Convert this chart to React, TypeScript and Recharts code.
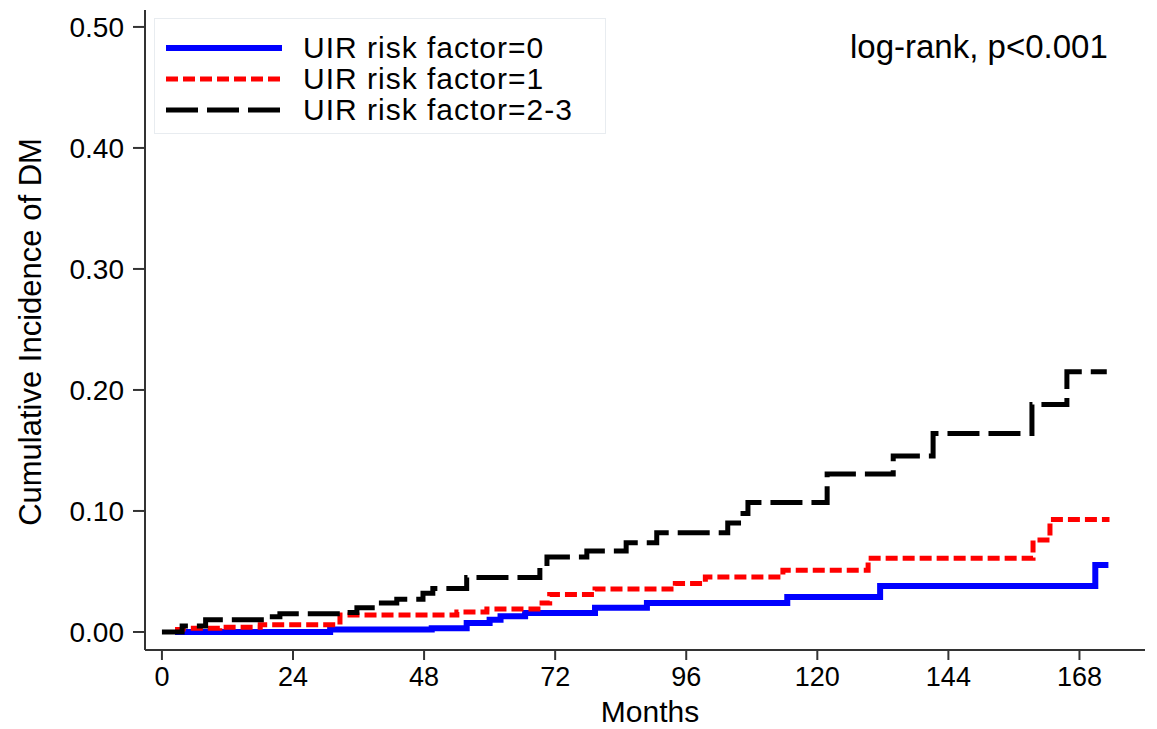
import React from 'react';
import { LineChart, Line, XAxis, YAxis, Legend } from 'recharts';

// month / cumulative incidence pairs
const riskMonths0 = [2.4, 30.8, 49.4, 55.8, 60, 62, 66.5, 79.3, 88.8, 114.5, 131.5, 170.9, 173.3];
const riskValues0 = [0, 0.002, 0.003, 0.0075, 0.01, 0.013, 0.0157, 0.02, 0.024, 0.029, 0.038, 0.0554, 0.0554];

const riskMonths1 = [2.4, 3.8, 10.6, 18, 32.6, 54, 59.5, 69.6, 71, 79.3, 94, 99.5, 113.7, 129.3, 159.5, 162.6, 173.5];
const riskValues1 = [0.002, 0.003, 0.004, 0.006, 0.014, 0.0165, 0.019, 0.024, 0.031, 0.0355, 0.04, 0.0455, 0.051, 0.061, 0.076, 0.093, 0.093];

const riskMonths23 = [0, 3.7, 8, 19.4, 21.6, 33.9, 35.7, 39.4, 43, 47.8, 49.6, 55.8, 69.2, 70.5, 77.8, 85, 90.6, 103.6, 106.4, 107.3, 121.8, 133.9, 141.2, 159.3, 165.7, 173];
const riskValues23 = [0, 0.005, 0.01, 0.0125, 0.015, 0.016, 0.02, 0.024, 0.027, 0.032, 0.036, 0.045, 0.054, 0.062, 0.067, 0.0737, 0.082, 0.09, 0.098, 0.107, 0.1306, 0.1455, 0.164, 0.188, 0.215, 0.215];

const xTicks = [0, 24, 48, 72, 96, 120, 144, 168];
const yTicks = [0, 0.1, 0.2, 0.3, 0.4, 0.5];

const toPoints = (months: number[], values: number[]) =>
    months.map((m, i) => ({ m, v: values[i] }));

const SERIES = [
    { name: 'UIR risk factor=0', data: toPoints(riskMonths0, riskValues0), color: '#0000ff', dash: undefined, width: 6 },
    { name: 'UIR risk factor=1', data: toPoints(riskMonths1, riskValues1), color: '#ff0000', dash: '12 5', width: 5 },
    { name: 'UIR risk factor=2-3', data: toPoints(riskMonths23, riskValues23), color: '#000000', dash: '32 9', width: 5 },
];

const FONT = '"Liberation Sans", Arial, sans-serif';
const AXIS_COLOR = '#333';

function LegendBox() {
    return (
        <div
            style={{
                border: '1px solid #e8ecf0',
                background: '#fff',
                width: 452,
                height: 116,
                boxSizing: 'border-box',
                paddingTop: 13,
                fontFamily: FONT,
            }}
        >
            {SERIES.map((s) => (
                <div key={s.name} style={{ display: 'flex', alignItems: 'center', height: 31 }}>
                    <svg width={134} height={20} style={{ marginLeft: 11 }}>
                        <line
                            x1={0}
                            y1={10}
                            x2={116}
                            y2={10}
                            stroke={s.color}
                            strokeWidth={s.width}
                            strokeDasharray={s.dash}
                        />
                    </svg>
                    <span style={{ fontSize: 30, lineHeight: 1, letterSpacing: 1, color: '#000', marginLeft: 3 }}>
                        {s.name}
                    </span>
                </div>
            ))}
        </div>
    );
}

function YTitle({ viewBox }: any) {
    const cy = viewBox.y + viewBox.height / 2 + 2;
    return (
        <text
            x={30}
            y={cy}
            transform={`rotate(-90, 30, ${cy})`}
            textAnchor="middle"
            dominantBaseline="central"
            fontSize={31}
            fontFamily={FONT}
            fill="#000"
        >
            Cumulative Incidence of DM
        </text>
    );
}

function XTitle({ viewBox }: any) {
    return (
        <text
            x={viewBox.x + viewBox.width / 2 + 5}
            y={722}
            textAnchor="middle"
            fontSize={30}
            fontFamily={FONT}
            fill="#000"
        >
            Months
        </text>
    );
}

export default function App() {
    return (
        <div style={{ position: 'absolute', left: 0, top: 0, width: 1157, height: 729, background: '#fff' }}>
            <LineChart width={1157} height={729} margin={{ top: 10, right: 12, bottom: 0, left: 0 }}>
                <XAxis
                    type="number"
                    dataKey="m"
                    domain={[-3.1, 180]}
                    ticks={xTicks}
                    allowDataOverflow
                    height={79}
                    tickSize={10}
                    tickMargin={7}
                    stroke={AXIS_COLOR}
                    strokeWidth={2}
                    tick={{ fill: '#000', fontSize: 27, fontFamily: FONT }}
                    label={<XTitle />}
                />
                <YAxis
                    type="number"
                    dataKey="v"
                    domain={[-0.0149, 0.514]}
                    ticks={yTicks}
                    allowDataOverflow
                    width={145}
                    tickSize={12}
                    tickMargin={9}
                    stroke={AXIS_COLOR}
                    strokeWidth={2}
                    tickFormatter={(v: number) => v.toFixed(2)}
                    tick={{ fill: '#000', fontSize: 28, fontFamily: FONT }}
                    label={<YTitle />}
                />
                <Legend
                    layout="vertical"
                    align="center"
                    verticalAlign="middle"
                    wrapperStyle={{ left: 154, top: 18, width: 452, height: 116 }}
                    content={() => <LegendBox />}
                />
                {SERIES.map((s) => (
                    <Line
                        key={s.name}
                        data={s.data}
                        dataKey="v"
                        name={s.name}
                        type="stepAfter"
                        stroke={s.color}
                        strokeWidth={s.width}
                        strokeDasharray={s.dash}
                        dot={false}
                        activeDot={false}
                        isAnimationActive={false}
                    />
                ))}
            </LineChart>
            <div
                style={{
                    position: 'absolute',
                    left: 850,
                    top: 30,
                    fontSize: 33,
                    lineHeight: 1,
                    fontFamily: FONT,
                    color: '#000',
                    whiteSpace: 'nowrap',
                }}
            >
                log-rank, p&lt;0.001
            </div>
        </div>
    );
}
